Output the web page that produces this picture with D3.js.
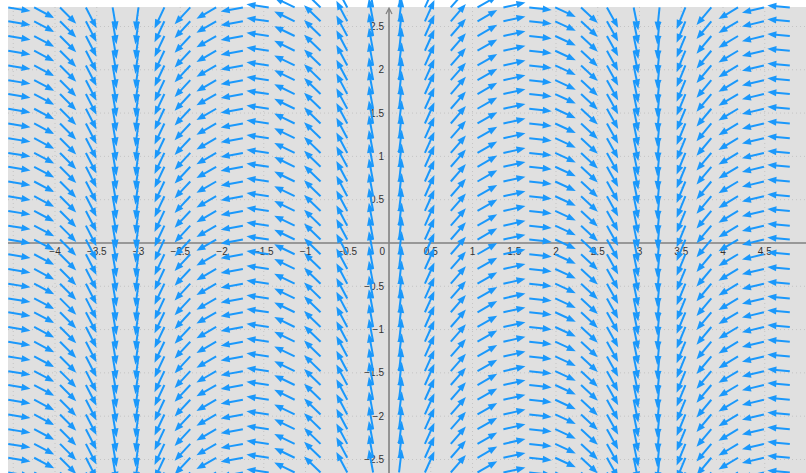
<!DOCTYPE html>
<html>
<head>
<meta charset="utf-8">
<script src="https://cdn.jsdelivr.net/npm/d3@7"></script>
<style>
  body { margin: 0; background: #fff; }
  svg { display: block; }
  .lbl { font-family: "Liberation Sans", Arial, sans-serif; font-size: 10px; fill: #333; }
</style>
</head>
<body>
<div id="chart"></div>
<script>
// column positions (x) of the arrow tails
var colX = [-4.56, -4.25, -3.94, -3.63, -3.31, -3.00, -2.69, -2.38, -2.07, -1.75, -1.44,
  -1.13, -0.82, -0.50, -0.19, 0.12, 0.43, 0.74, 1.06, 1.37, 1.68, 1.99, 2.30, 2.61,
  2.93, 3.24, 3.55, 3.86, 4.18, 4.49, 4.80];
// arrow direction per column, degrees (same in every row)
var colAngle = [-9, -27, -44, -62, -80, -98, -116, -134, -151, -170, 172,
  155, 137, 119, 101, 83, 65, 48, 29, 12, -6, -24, -42, -60,
  -78, -96, -113, -131, -150, -167, 175];
// row positions (y) of the arrow tails
var rowY = [2.72, 2.56, 2.39, 2.22, 2.05, 1.88, 1.72, 1.55, 1.38, 1.21, 1.04, 0.88,
  0.71, 0.54, 0.37, 0.20, 0.04, -0.13, -0.30, -0.47, -0.64, -0.80, -0.97, -1.14,
  -1.31, -1.48, -1.64, -1.81, -1.98, -2.15, -2.32, -2.48, -2.65];
var xTicks = [-4, -3.5, -3, -2.5, -2, -1.5, -1, -0.5, 0.5, 1, 1.5, 2, 2.5, 3, 3.5, 4, 4.5];
var yTicks = [2.5, 2, 1.5, 1, 0.5, -0.5, -1, -1.5, -2, -2.5];
var gridX = [-4.5, -4, -3.5, -3, -2.5, -2, -1.5, -1, -0.5, 0.5, 1, 1.5, 2, 2.5, 3, 3.5, 4, 4.5];
var gridY = [2.5, 2, 1.5, 1, 0.5, -0.5, -1, -1.5, -2, -2.5];
var arrowLen = 0.27;

var width = 806, height = 473;
var padLeft = 8, padTop = 7;

var svg = d3.select("#chart").append("svg")
  .attr("width", width)
  .attr("height", height);

var x = d3.scaleLinear().domain([-4.563, 4.994]).range([padLeft, width]);
var y = d3.scaleLinear().domain([-2.656, 2.725]).range([height, padTop]);

svg.append("rect")
  .attr("x", padLeft).attr("y", padTop)
  .attr("width", width - padLeft).attr("height", height - padTop)
  .attr("fill", "#e0e0e0");

var g = svg.append("g");

g.selectAll(".gx").data(gridX).enter().append("line")
  .attr("x1", function(d){ return x(d); }).attr("x2", function(d){ return x(d); })
  .attr("y1", padTop).attr("y2", height)
  .attr("stroke", "#c4c4c4").attr("stroke-dasharray", "1,3");

g.selectAll(".gy").data(gridY).enter().append("line")
  .attr("y1", function(d){ return y(d); }).attr("y2", function(d){ return y(d); })
  .attr("x1", padLeft).attr("x2", width)
  .attr("stroke", "#c4c4c4").attr("stroke-dasharray", "1,3");

// axes
g.append("line")
  .attr("x1", padLeft).attr("x2", width)
  .attr("y1", y(0)).attr("y2", y(0))
  .attr("stroke", "#808080").attr("stroke-width", 1.6);
g.append("line")
  .attr("x1", x(0)).attr("x2", x(0))
  .attr("y1", padTop + 2).attr("y2", height)
  .attr("stroke", "#808080").attr("stroke-width", 1.6);
g.append("path")
  .attr("d", "M" + (x(0) - 3) + "," + (padTop + 7) + "L" + x(0) + "," + (padTop + 1) + "L" + (x(0) + 3) + "," + (padTop + 7))
  .attr("fill", "none").attr("stroke", "#808080").attr("stroke-width", 1.2);

g.selectAll(".xl").data(xTicks).enter().append("text")
  .attr("class", "lbl")
  .attr("x", function(d){ return x(d); })
  .attr("y", y(0) + 12)
  .attr("text-anchor", "middle")
  .text(function(d){ return d < 0 ? "\u2212" + Math.abs(d) : d; });

g.append("text").attr("class", "lbl")
  .attr("x", x(0) - 4).attr("y", y(0) + 12)
  .attr("text-anchor", "end").text("0");

g.selectAll(".yl").data(yTicks).enter().append("text")
  .attr("class", "lbl")
  .attr("x", x(0) - 5)
  .attr("y", function(d){ return y(d); })
  .attr("dy", "0.35em")
  .attr("text-anchor", "end")
  .text(function(d){ return d < 0 ? "\u2212" + Math.abs(d) : d; });

// arrows
var cells = [];
rowY.forEach(function(ry){
  colX.forEach(function(cx, i){
    cells.push({x: cx, y: ry, a: colAngle[i]});
  });
});

var blue = "#1a98fb";
var arrows = g.selectAll(".arrow").data(cells).enter().append("g").attr("class", "arrow");

function head(d){
  var r = d.a * Math.PI / 180;
  return [x(d.x + arrowLen * Math.cos(r)), y(d.y + arrowLen * Math.sin(r))];
}

arrows.append("line")
  .attr("x1", function(d){ return x(d.x); })
  .attr("y1", function(d){ return y(d.y); })
  .attr("x2", function(d){
    var h = head(d), t = [x(d.x), y(d.y)];
    var L = Math.hypot(h[0] - t[0], h[1] - t[1]);
    return h[0] - (h[0] - t[0]) / L * 6;
  })
  .attr("y2", function(d){
    var h = head(d), t = [x(d.x), y(d.y)];
    var L = Math.hypot(h[0] - t[0], h[1] - t[1]);
    return h[1] - (h[1] - t[1]) / L * 6;
  })
  .attr("stroke", blue).attr("stroke-width", 2);

arrows.append("path")
  .attr("d", function(d){
    var h = head(d), t = [x(d.x), y(d.y)];
    var L = Math.hypot(h[0] - t[0], h[1] - t[1]);
    var ux = (h[0] - t[0]) / L, uy = (h[1] - t[1]) / L;
    var bx = h[0] - ux * 9, by = h[1] - uy * 9;
    var px = -uy * 3.5, py = ux * 3.5;
    return "M" + h[0] + "," + h[1] + "L" + (bx + px) + "," + (by + py) + "L" + (bx - px) + "," + (by - py) + "Z";
  })
  .attr("fill", blue);
</script>
</body>
</html>
